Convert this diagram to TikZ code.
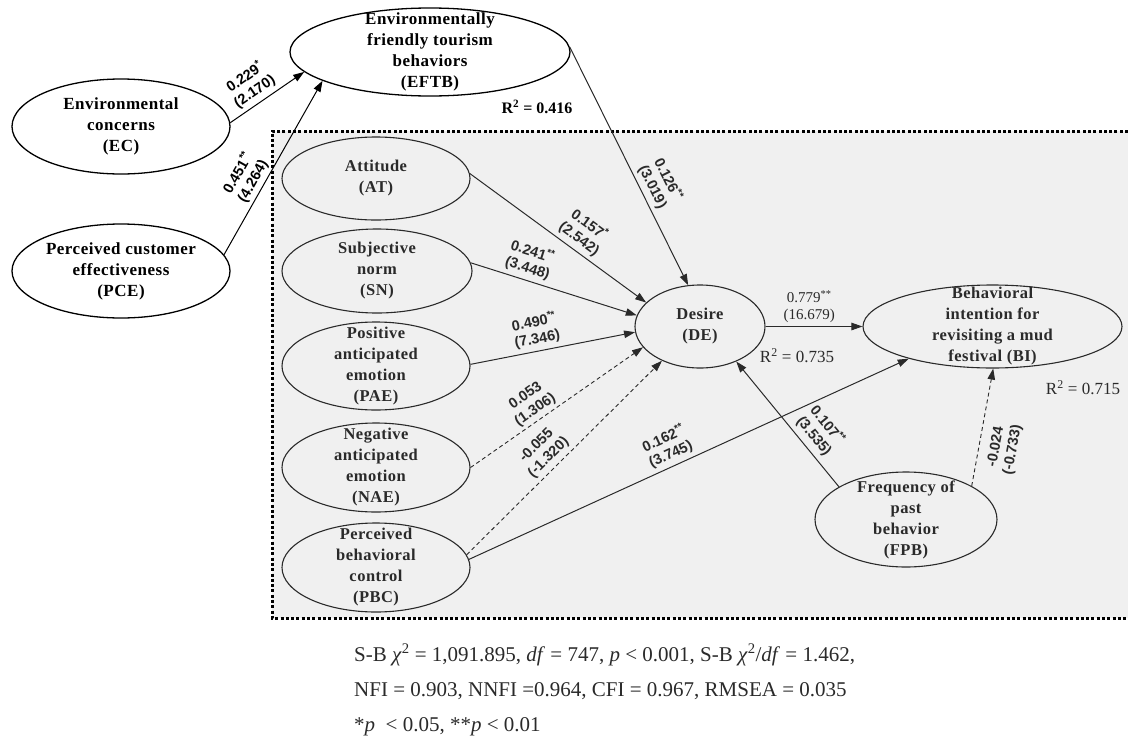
\documentclass[tikz,border=0pt]{standalone}
\usepackage{fontspec}
\setmainfont{Liberation Serif}
\newfontfamily\sansf{Liberation Sans}
\newfontfamily\ellf[LetterSpace=3]{Liberation Serif}
\usetikzlibrary{shapes.geometric,arrows.meta}
\definecolor{boxgray}{HTML}{F0F0F0}
\definecolor{ink}{HTML}{2A2A2A}
\begin{document}
\begin{tikzpicture}[x=1pt,y=-1pt,
  outer/.style={ellipse, draw=black, line width=1.3pt, fill=white, inner sep=0pt},
  inner/.style={ellipse, draw=ink, line width=1.1pt, fill=boxgray, inner sep=0pt},
  otext/.style={font=\ellf\bfseries\fontsize{17}{21}\selectfont, align=center, text=black, inner sep=0pt},
  itext/.style={font=\ellf\bfseries\fontsize{16.5}{21}\selectfont, align=center, text=ink, inner sep=0pt},
  arr/.style={line width=1pt, draw=ink, -{Triangle[length=11pt,width=7.5pt]}},
  arrback/.style={line width=1pt, draw=ink, {Triangle[length=11pt,width=7.5pt]}-},
  dashline/.style={dash pattern=on 4pt off 3pt, line width=0.9pt},
  coef/.style={font=\sansf\bfseries\fontsize{14.5}{17}\selectfont, align=center, inner sep=1pt, text=ink, sloped},
  coefs/.style={font=\fontsize{15}{17}\selectfont, align=center, inner sep=1.5pt, text=ink},
  rsq/.style={font=\fontsize{17}{20}\selectfont, inner sep=0pt, text=ink},
  fitline/.style={font=\fontsize{21}{24}\selectfont, anchor=base west, inner sep=0pt, text=ink},
  dotline/.style={line width=3pt, dash pattern=on 3pt off 2.3pt}
]
\useasboundingbox (0,0) rectangle (1128,742);
\fill[boxgray] (272,131) rectangle (1128,618);
\draw[dotline] (1128,131) -- (272,131) -- (272,618) -- (1128,618);

% outer constructs
\node[outer, minimum width=218pt, minimum height=95pt,
  label={[otext]center:{Environmental\\concerns\\(EC)}}] (EC) at (121,126.5) {};
\node[outer, minimum width=218pt, minimum height=94pt,
  label={[otext]center:{Perceived customer\\effectiveness\\(PCE)}}] (PCE) at (121,271) {};
\node[outer, minimum width=280pt, minimum height=88pt,
  label={[otext]center:{Environmentally\\friendly tourism\\behaviors\\(EFTB)}}] (EFTB) at (430,52) {};

% inner constructs
\node[inner, minimum width=188pt, minimum height=83pt,
  label={[itext]center:{Attitude\\(AT)}}] (AT) at (376,178.5) {};
\node[inner, minimum width=190pt, minimum height=84pt,
  label={[itext]center:{Subjective\\norm\\(SN)}}] (SN) at (377,271) {};
\node[inner, minimum width=188pt, minimum height=88pt,
  label={[itext]center:{Positive\\anticipated\\emotion\\(PAE)}}] (PAE) at (376,366) {};
\node[inner, minimum width=188pt, minimum height=89pt,
  label={[itext]center:{Negative\\anticipated\\emotion\\(NAE)}}] (NAE) at (376,467.5) {};
\node[inner, minimum width=188pt, minimum height=89pt,
  label={[itext]center:{Perceived\\behavioral\\control\\(PBC)}}] (PBC) at (376,567.5) {};
\node[inner, minimum width=130pt, minimum height=83pt,
  label={[itext]center:{Desire\\(DE)}}] (DE) at (700,326.5) {};
\node[inner, minimum width=259pt, minimum height=83pt,
  label={[itext]center:{Behavioral\\intention for\\revisiting a mud\\festival (BI)}}] (BI) at (992.5,326.5) {};
\node[inner, minimum width=182pt, minimum height=95pt,
  label={[itext]center:{Frequency of\\past\\behavior\\(FPB)}}] (FPB) at (906,519.5) {};

% R squared
\node[rsq, font=\bfseries\fontsize{16}{20}\selectfont, text=black] (r1) at (537,107) {R\textsuperscript{2} = 0.416};
\node[rsq] (r2) at (797,356) {R\textsuperscript{2} = 0.735};
\node[rsq] (r3) at (1083,388) {R\textsuperscript{2} = 0.715};

% paths
\draw[arr, draw=black] (EC.2) -- node[coef, text=black, above=3pt, pos=0.42] {0.229\textsuperscript{*}\\(2.170)} (EFTB.189);
\draw[arr, draw=black] (PCE.9) -- node[coef, text=black, above=2pt, pos=0.39] {0.451\textsuperscript{**}\\(4.264)} (EFTB.195);
\draw[arr] (EFTB.2) -- node[coef, above=3pt, pos=0.61] {0.126\textsuperscript{**}\\(3.019)} (DE.106);
\draw[arr] (AT.3) -- node[coef, above=3pt, pos=0.58] {0.157\textsuperscript{*}\\(2.542)} (DE.156);
\draw[arr] (SN.5) -- node[coef, above=3pt, pos=0.32] {0.241\textsuperscript{**}\\(3.448)} (DE.170);
\draw[arr] (PAE.1) -- node[coef, above=3pt, pos=0.42] {0.490\textsuperscript{**}\\(7.346)} (DE.185);
\draw[arr, dashline] (NAE.0) -- node[coef, above=2pt, pos=0.41] {0.053\\(1.306)} (DE.200);
\draw[arr, dashline] (PBC.8) -- node[coef, above=3pt, pos=0.46] {-0.055\\(-1.320)} (DE.222);
\draw[arr] (PBC.5) -- node[coef, above=3pt, pos=0.47] {0.162\textsuperscript{**}\\(3.745)} (BI.201);
\draw[arr] (DE.east) -- node[coefs, above=2pt, pos=0.45] {0.779\textsuperscript{**}\\(16.679)} (BI.west);
\draw[arrback] (DE.-44) -- node[coef, above=4pt, pos=0.66] {0.107\textsuperscript{**}\\(3.535)} (FPB.154);
\draw[arr, dashline] (FPB.27) -- node[coef, below=9pt, pos=0.36] {-0.024\\(-0.733)} (BI.-89);

% fit indices
\node[fitline] (f1) at (354,661) {S-B \textit{χ}\textsuperscript{2} = 1,091.895, \textit{df} = 747, \textit{p} < 0.001, S-B \textit{χ}\textsuperscript{2}/\textit{df} = 1.462,};
\node[fitline] (f2) at (354,696) {NFI = 0.903, NNFI =0.964, CFI = 0.967, RMSEA = 0.035};
\node[fitline] (f3) at (354,731) {*\textit{p}\ \ < 0.05, **\textit{p} < 0.01};
\end{tikzpicture}
\end{document}
